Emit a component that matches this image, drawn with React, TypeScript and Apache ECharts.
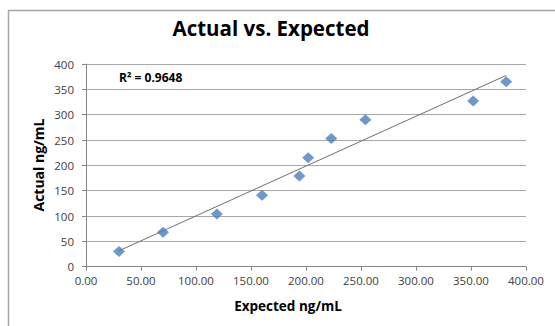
import React, { useEffect, useRef } from "react";
import * as echarts from "echarts";

const expected = [30, 70, 119, 160, 194, 202, 223, 254, 352, 382];
const actual = [30, 68, 104, 141, 179, 215, 253, 290, 327, 365];
const title = "Actual vs. Expected";
const xName = "Expected ng/mL";
const yName = "Actual ng/mL";
const r2Label = "R² = 0.9648";

function regression(xs: number[], ys: number[]) {
  const n = xs.length;
  const mx = xs.reduce((a, b) => a + b, 0) / n;
  const my = ys.reduce((a, b) => a + b, 0) / n;
  let sxy = 0, sxx = 0;
  for (let i = 0; i < n; i++) {
    sxy += (xs[i] - mx) * (ys[i] - my);
    sxx += (xs[i] - mx) * (xs[i] - mx);
  }
  const slope = sxy / sxx;
  return { slope, intercept: my - slope * mx };
}

export default function App() {
  const ref = useRef<HTMLDivElement>(null);
  useEffect(() => {
    if (!ref.current) return;
    const chart = echarts.init(ref.current, undefined, { renderer: "svg" });
    const { slope, intercept } = regression(expected, actual);
    const xmin = Math.min(...expected);
    const xmax = Math.max(...expected);
    const font = "'Open Sans', sans-serif";
    chart.setOption({
      animation: false,
      backgroundColor: "#ffffff",
      title: {
        text: title,
        left: 266,
        top: 12,
        textAlign: "center",
        textStyle: { fontFamily: font, fontSize: 20.5, fontWeight: "bold", color: "#000" },
      },
      grid: { left: 86, right: 29, top: 64, bottom: 59.3 },
      xAxis: {
        type: "value",
        min: 0,
        max: 400,
        interval: 50,
        axisLine: { show: true, lineStyle: { color: "#868686" } },
        axisTick: { show: true, length: 4, lineStyle: { color: "#868686" } },
        splitLine: { show: false },
        axisLabel: {
          color: "#404040",
          fontFamily: font,
          fontSize: 11.5,
          margin: 8,
          formatter: (v: number) => v.toFixed(2),
        },
      },
      yAxis: {
        type: "value",
        min: 0,
        max: 400,
        interval: 50,
        axisLine: { show: true, lineStyle: { color: "#868686" } },
        axisTick: { show: true, length: 4, lineStyle: { color: "#868686" } },
        splitLine: { show: true, lineStyle: { color: "#a8a8a8" } },
        axisLabel: { color: "#404040", fontFamily: font, fontSize: 11.5, margin: 12 },
      },
      graphic: [
        {
          type: "rect",
          shape: { x: 8.5, y: 10.5, width: 700, height: 500 },
          style: { fill: "none", stroke: "#a6a6a6", lineWidth: 1.5 },
          silent: true,
          z: 100,
        },
        {
          type: "text",
          x: 119,
          y: 77,
          style: {
            text: r2Label,
            fontFamily: font,
            fontSize: 12,
            fontWeight: "bold",
            fill: "#000",
            textVerticalAlign: "middle",
          },
        },
        {
          type: "text",
          x: 288,
          y: 306,
          style: {
            text: xName,
            fontFamily: font,
            fontSize: 13.5,
            fontWeight: "bold",
            fill: "#000",
            textAlign: "center",
            textVerticalAlign: "middle",
          },
        },
        {
          type: "text",
          x: 38,
          y: 165,
          rotation: Math.PI / 2,
          style: {
            text: yName,
            fontFamily: font,
            fontSize: 14,
            fontWeight: "bold",
            fill: "#000",
            textAlign: "center",
            textVerticalAlign: "middle",
          },
        },
      ],
      series: [
        {
          type: "line",
          data: [
            [xmin, slope * xmin + intercept],
            [xmax, slope * xmax + intercept],
          ],
          showSymbol: false,
          symbol: "none",
          lineStyle: { color: "#6f6f6f", width: 1 },
          z: 3,
        },
        {
          type: "scatter",
          data: expected.map((x, i) => [x, actual[i]]),
          symbol: "diamond",
          symbolSize: [12, 11],
          itemStyle: { color: "#4A7EBB" },
          z: 4,
        },
      ],
    });
    return () => chart.dispose();
  }, []);
  return (
    <div
      ref={ref}
      style={{ position: "fixed", left: 0, top: 0, width: 555, height: 326 }}
    />
  );
}
